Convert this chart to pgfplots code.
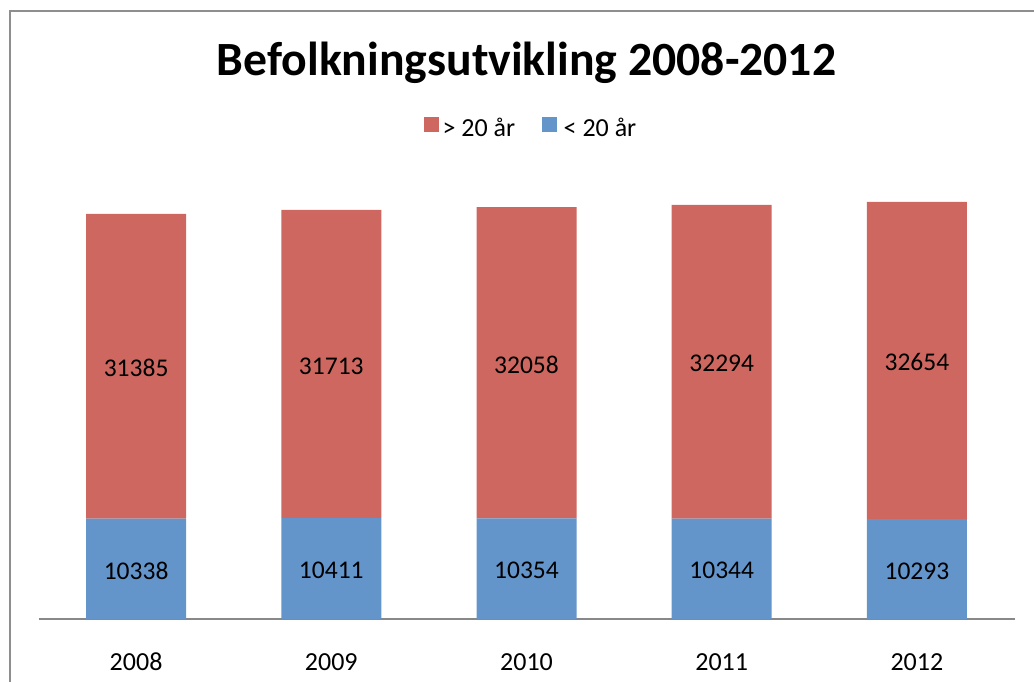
\documentclass[border=0pt]{standalone}
\usepackage{pgfplots}
\pgfplotsset{compat=1.18}
\usepackage{fontspec}
\setmainfont{Carlito}
\definecolor{cOver}{HTML}{CD6760}
\definecolor{cUnder}{HTML}{6395CB}
\definecolor{cFrame}{HTML}{8E8E8E}
\definecolor{cAxis}{HTML}{888888}

\begin{document}
\begin{tikzpicture}[x=1bp,y=1bp]
\useasboundingbox (0,0) rectangle (1034,682);
\draw[cFrame, line width=2bp] (9.5,0) -- (9.5,670.5) -- (1034,670.5);
\node[font=\fontsize{47.7bp}{56bp}\selectfont\bfseries, anchor=base, inner sep=0pt]
  at (526.5,606.3) {Befolkningsutvikling 2008-2012};
\begin{axis}[
    at={(38.5bp,63bp)}, anchor=south west,
    scale only axis, width=976bp, height=437bp,
    ybar stacked, bar width=100bp,
    xmin=-0.5, xmax=4.5, ymin=0, ymax=45000,
    xtick={0,...,4}, xticklabels={2008,2009,2010,2011,2012},
    ytick=\empty, major tick length=0pt,
    xticklabel style={anchor=base, yshift=-52bp, font=\fontsize{26bp}{31bp}\selectfont},
    axis y line=none, axis x line*=bottom,
    x axis line style={cAxis, line width=2bp},
    point meta=explicit symbolic,
    nodes near coords,
    % labels of stacked bars sit in the middle of their segment
    every node near coord/.append style={anchor=center, yshift=-2bp,
        font=\fontsize{25.5bp}{30bp}\selectfont, text=black},
    legend style={at={(0.5056,1.1236)}, anchor=center, draw=none, fill=none,
        legend columns=2, font=\fontsize{26bp}{31bp}\selectfont,
        nodes={inner xsep=3.5bp, inner ysep=1bp},
        /tikz/every even column/.append style={column sep=23.5bp}},
    legend image code/.code={\fill[#1] (0bp,-4bp) rectangle (15bp,11bp);},
    reverse legend,
]
\addplot[fill=cUnder, draw=none] coordinates {
    (0,10338) [10338] (1,10411) [10411] (2,10354) [10354] (3,10344) [10344] (4,10293) [10293]};
\addlegendentry{\hspace{3bp}< 20 år}
\addplot[fill=cOver, draw=none] coordinates {
    (0,31385) [31385] (1,31713) [31713] (2,32058) [32058] (3,32294) [32294] (4,32654) [32654]};
\addlegendentry{> 20 år}
\end{axis}
\end{tikzpicture}
\end{document}
